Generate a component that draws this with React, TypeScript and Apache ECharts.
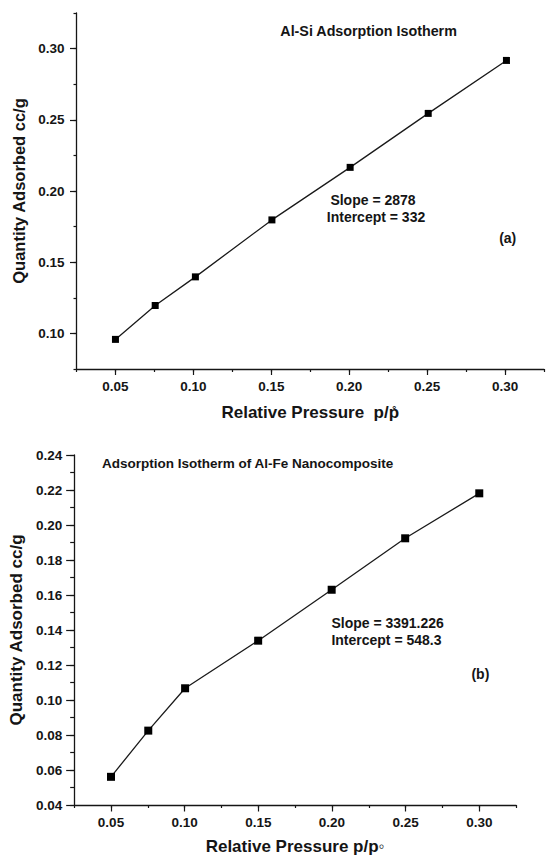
import React, { useEffect, useRef } from "react";
import * as echarts from "echarts";

// Panel (a): Al-Si
const xTop = [0.05, 0.0755, 0.1013, 0.1504, 0.2006, 0.2507, 0.3009];
const yTop = [0.0958, 0.1196, 0.1397, 0.1797, 0.2166, 0.2545, 0.2917];
const topXMajor = [0.05, 0.1, 0.15, 0.2, 0.25, 0.3];
const topYMajor = [0.1, 0.15, 0.2, 0.25, 0.3];

// Panel (b): Al-Fe
const xBot = [0.05, 0.0753, 0.1003, 0.1499, 0.1998, 0.2497, 0.3];
const yBot = [0.0561, 0.0825, 0.1067, 0.1339, 0.163, 0.1924, 0.2181];
const botXMajor = [0.05, 0.1, 0.15, 0.2, 0.25, 0.3];
const botYMajor = [0.04, 0.06, 0.08, 0.1, 0.12, 0.14, 0.16, 0.18, 0.2, 0.22, 0.24];

const FONT = "'Liberation Sans', Arial, Helvetica, sans-serif";
const INK = "#151515";

function isMajor(v: number, majors: number[]) {
  return majors.some((m) => Math.abs(m - v) < 1e-7);
}

function primaryAxis(opts: any) {
  const { grid, min, max, interval, majors, name, nameGap, pos, minorLen, labelMargin, nameSize } = opts;
  return {
    type: "value",
    gridIndex: grid,
    position: pos,
    min,
    max,
    interval,
    name,
    nameLocation: "middle",
    nameGap,
    nameTextStyle: { fontFamily: FONT, fontWeight: "bold", fontSize: nameSize, color: INK },
    splitLine: { show: false },
    axisLine: { show: true, onZero: false, lineStyle: { color: INK, width: 1.3 } },
    axisTick: { show: true, inside: false, length: minorLen, lineStyle: { color: INK, width: 1.2 } },
    axisLabel: {
      show: true,
      margin: labelMargin,
      fontFamily: FONT,
      fontWeight: "bold",
      fontSize: 13.5,
      color: INK,
      showMinLabel: true,
      showMaxLabel: true,
      formatter: (v: number) => (isMajor(v, majors) ? v.toFixed(2) : ""),
    },
  };
}

function majorAxis(opts: any) {
  const { grid, min, max, majors, pos, majorLen } = opts;
  return {
    type: "value",
    gridIndex: grid,
    position: pos,
    offset: 0,
    min,
    max,
    splitLine: { show: false },
    axisLine: { show: false, onZero: false },
    axisTick: { show: true, inside: false, length: majorLen, customValues: majors, lineStyle: { color: INK, width: 1.2 } },
    axisLabel: { show: false },
  };
}

export default function App() {
  const ref = useRef<HTMLDivElement>(null);
  useEffect(() => {
    if (!ref.current) return;
    const chart = echarts.init(ref.current, null, { renderer: "svg" });
    const option: any = {
      animation: false,
      backgroundColor: "#ffffff",
      grid: [
        { left: 76.5, top: 13, width: 476, height: 356, containLabel: false },
        { left: 69.7, top: 455, width: 446.4, height: 350, containLabel: false },
      ],
      xAxis: [
        primaryAxis({ grid: 0, min: 0.025, max: 0.325, interval: 0.025, majors: topXMajor, name: "Relative Pressure  p/p\u030A", nameGap: 35, pos: "bottom", minorLen: 3, labelMargin: 10, nameSize: 17 }),
        majorAxis({ grid: 0, min: 0.025, max: 0.325, majors: topXMajor, pos: "bottom", majorLen: 6 }),
        primaryAxis({ grid: 1, min: 0.025, max: 0.325, interval: 0.025, majors: botXMajor, name: "Relative Pressure p/p\u25E6", nameGap: 33, pos: "bottom", minorLen: 3, labelMargin: 10, nameSize: 17 }),
        majorAxis({ grid: 1, min: 0.025, max: 0.325, majors: botXMajor, pos: "bottom", majorLen: 6.5 }),
      ],
      yAxis: [
        primaryAxis({ grid: 0, min: 0.075, max: 0.325, interval: 0.025, majors: topYMajor, name: "Quantity Adsorbed cc/g", nameGap: 44, pos: "left", minorLen: 3, labelMargin: 12, nameSize: 16.5 }),
        majorAxis({ grid: 0, min: 0.075, max: 0.325, majors: topYMajor, pos: "left", majorLen: 6.5 }),
        primaryAxis({ grid: 1, min: 0.04, max: 0.24, interval: 0.01, majors: botYMajor, name: "Quantity Adsorbed cc/g", nameGap: 41, pos: "left", minorLen: 4, labelMargin: 12, nameSize: 17 }),
        majorAxis({ grid: 1, min: 0.04, max: 0.24, majors: botYMajor, pos: "left", majorLen: 8 }),
      ],
      series: [
        {
          type: "line",
          xAxisIndex: 0,
          yAxisIndex: 0,
          data: xTop.map((x, i) => [x, yTop[i]]),
          symbol: "rect",
          symbolSize: 7,
          itemStyle: { color: "#000" },
          lineStyle: { color: "#1a1a1a", width: 1.3 },
        },
        {
          type: "line",
          xAxisIndex: 2,
          yAxisIndex: 2,
          data: xBot.map((x, i) => [x, yBot[i]]),
          symbol: "rect",
          symbolSize: 8,
          itemStyle: { color: "#000" },
          lineStyle: { color: "#1a1a1a", width: 1.3 },
        },
      ],
      graphic: [
        { type: "text", x: 368.6, y: 30.7, style: { text: "Al-Si Adsorption Isotherm", fontFamily: FONT, fontWeight: "bold", fontSize: 14.3, fill: INK, align: "center", verticalAlign: "middle" } },
        { type: "text", x: 373, y: 200, style: { text: "Slope = 2878", fontFamily: FONT, fontWeight: "bold", fontSize: 14, fill: INK, align: "center", verticalAlign: "middle" } },
        { type: "text", x: 376, y: 217, style: { text: "Intercept = 332", fontFamily: FONT, fontWeight: "bold", fontSize: 14, fill: INK, align: "center", verticalAlign: "middle" } },
        { type: "text", x: 507.7, y: 237.7, style: { text: "(a)", fontFamily: FONT, fontWeight: "bold", fontSize: 14, fill: INK, align: "center", verticalAlign: "middle" } },
        { type: "text", x: 102, y: 463.3, style: { text: "Adsorption Isotherm of Al-Fe Nanocomposite", fontFamily: FONT, fontWeight: "bold", fontSize: 13.5, fill: INK, align: "left", verticalAlign: "middle" } },
        { type: "text", x: 331.4, y: 622.7, style: { text: "Slope = 3391.226", fontFamily: FONT, fontWeight: "bold", fontSize: 14, fill: INK, align: "left", verticalAlign: "middle" } },
        { type: "text", x: 331.4, y: 640, style: { text: "Intercept = 548.3", fontFamily: FONT, fontWeight: "bold", fontSize: 14, fill: INK, align: "left", verticalAlign: "middle" } },
        { type: "text", x: 480.4, y: 674, style: { text: "(b)", fontFamily: FONT, fontWeight: "bold", fontSize: 14, fill: INK, align: "center", verticalAlign: "middle" } },
      ],
    };
    chart.setOption(option);
    return () => chart.dispose();
  }, []);
  return (
    <div
      ref={ref}
      style={{ position: "fixed", left: 0, top: 0, width: 547, height: 857, background: "#fff" }}
    />
  );
}
